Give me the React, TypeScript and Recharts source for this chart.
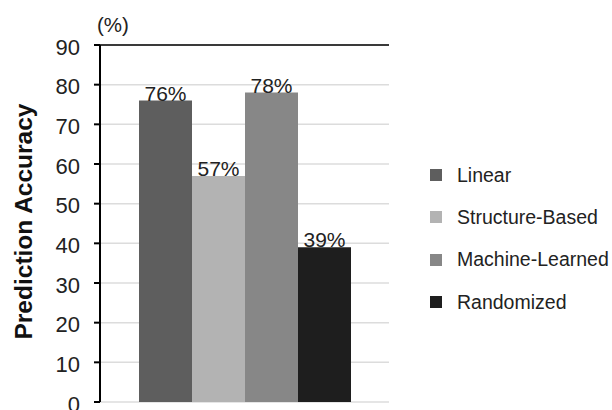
import React from 'react';
import { BarChart, Bar, XAxis, YAxis, CartesianGrid, ReferenceLine, LabelList, Legend } from 'recharts';

// One category, four methods drawn as adjacent bars
const categories = ['Accuracy'];
const seriesKeys = ['linear', 'structure', 'machine', 'random'];
const seriesNames = ['Linear', 'Structure-Based', 'Machine-Learned', 'Randomized'];
const seriesValues = [76, 57, 78, 39];
const seriesColors = ['#5e5e5e', '#b3b3b3', '#878787', '#1e1e1e'];
const yTicks = [0, 10, 20, 30, 40, 50, 60, 70, 80, 90];

const FONT = '"Liberation Sans", Arial, Helvetica, sans-serif';

const chartData = categories.map((name) => {
  const row: Record<string, string | number> = { name };
  seriesKeys.forEach((key, i) => {
    row[key] = seriesValues[i];
  });
  return row;
});

// Rotated axis title, centred on the plot height
const renderYTitle = (props: any) => {
  const vb = props.viewBox || {};
  const x = (vb.x ?? 0) + 23;
  const y = (vb.y ?? 0) + (vb.height ?? 0) / 2 - 2;
  return (
    <text
      x={x}
      y={y}
      transform={`rotate(-90, ${x}, ${y})`}
      textAnchor="middle"
      dominantBaseline="central"
      fontFamily={FONT}
      fontWeight="bold"
      fontSize={24.5}
      fill="#111"
    >
      Prediction Accuracy
    </text>
  );
};

// Unit marker sitting above the top-left corner of the frame
const renderUnit = (props: any) => {
  const vb = props.viewBox || {};
  return (
    <text
      x={(vb.x ?? 0) - 3}
      y={(vb.y ?? 0) - 21}
      textAnchor="start"
      dominantBaseline="central"
      fontFamily={FONT}
      fontSize={20.5}
      fill="#222"
    >
      (%)
    </text>
  );
};

const renderLegend = () => (
  <div style={{ fontFamily: FONT, fontSize: 19.5, color: '#222' }}>
    {seriesNames.map((name, i) => (
      <div key={name} style={{ display: 'flex', alignItems: 'center', height: 42.3 }}>
        <span
          style={{
            display: 'inline-block',
            width: 12,
            height: 12,
            background: seriesColors[i],
            marginRight: 15,
          }}
        />
        <span>{name}</span>
      </div>
    ))}
  </div>
);

const App: React.FC = () => {
  return (
    <div
      style={{
        position: 'absolute',
        left: 0,
        top: 0,
        width: 612,
        height: 410,
        overflow: 'hidden',
        background: '#fff',
      }}
    >
      <BarChart
        width={612}
        height={430}
        data={chartData}
        margin={{ top: 45, right: 223, bottom: 28, left: 0 }}
        barCategoryGap={39}
        barGap={0}
      >
        <CartesianGrid vertical={false} stroke="#dcdcdc" strokeWidth={1.5} />
        <XAxis
          dataKey="name"
          height={0}
          tick={false}
          tickLine={false}
          axisLine={{ stroke: '#000', strokeWidth: 2 }}
        />
        <YAxis
          width={100}
          domain={[0, 90]}
          ticks={yTicks}
          interval={0}
          tickSize={6}
          tickMargin={14}
          tickLine={{ stroke: '#000', strokeWidth: 2 }}
          axisLine={{ stroke: '#000', strokeWidth: 2 }}
          tick={{ fill: '#222', fontSize: 22, fontFamily: FONT, dy: 2 }}
          label={{ content: renderYTitle }}
        />
        <YAxis
          yAxisId="frame"
          orientation="right"
          width={0}
          domain={[0, 90]}
          tick={false}
          tickLine={false}
          axisLine={{ stroke: '#000', strokeWidth: 1.5 }}
        />
        <ReferenceLine y={90} stroke="#000" strokeWidth={1.5} label={{ content: renderUnit }} />
        {seriesKeys.map((key, i) => (
          <Bar key={key} dataKey={key} name={seriesNames[i]} fill={seriesColors[i]} isAnimationActive={false}>
            <LabelList
              dataKey={key}
              position="top"
              offset={0}
              formatter={(v: any) => `${v}%`}
              style={{ fill: '#222', fontSize: 21, fontFamily: FONT }}
            />
          </Bar>
        ))}
        {/* centred/middle so the legend reserves no margin; placed by wrapperStyle */}
        <Legend
          content={renderLegend}
          layout="vertical"
          verticalAlign="middle"
          align="center"
          wrapperStyle={{ left: 430, top: 154, width: 182, transform: 'none' }}
        />
      </BarChart>
    </div>
  );
};

export default App;
